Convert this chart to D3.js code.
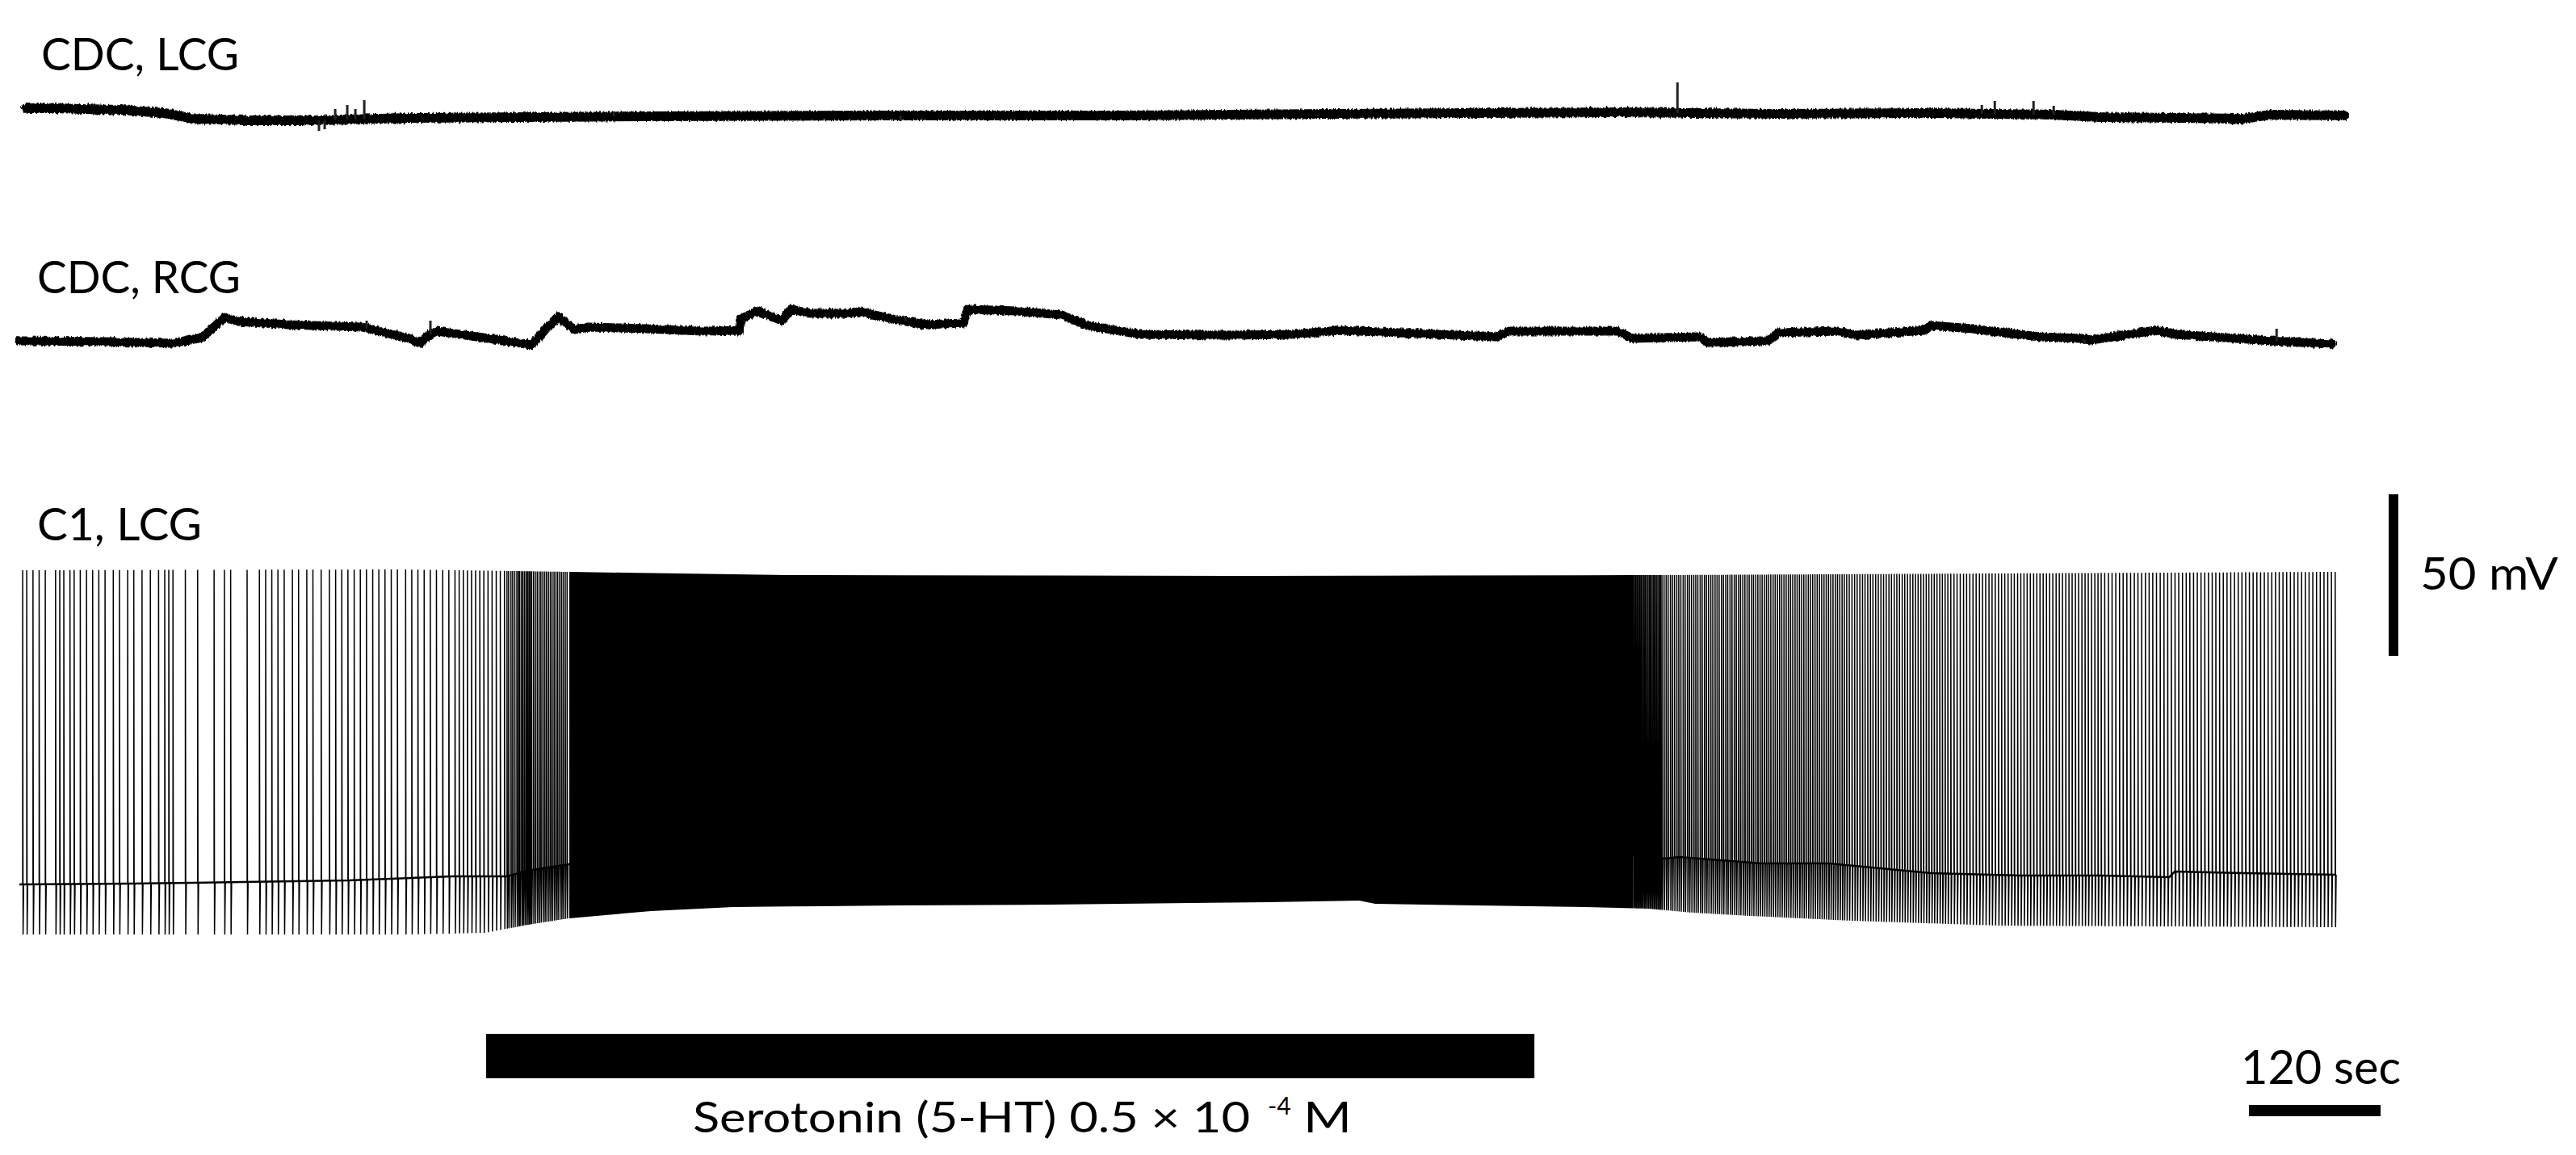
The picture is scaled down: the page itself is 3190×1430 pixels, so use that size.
<!DOCTYPE html>
<html>
<head>
<meta charset="utf-8">
<script src="https://cdnjs.cloudflare.com/ajax/libs/d3/7.8.5/d3.min.js"></script>
<style>
  body { margin: 0; background: #fff; }
  svg { display: block; }
  .lbl { font-family: Lato, 'Open Sans', sans-serif; fill: #000; }
</style>
</head>
<body>
<div id="chart"></div>
<script>
// recording time in seconds, potentials in mV (relative to each trace's own zero)
var trace1 = [[6.6, 2.5], [33.9, 2.5], [57.4, 2.25], [92.8, 2.0], [132.5, 1.0], [159.0, -0.75],
  [207.6, -1.25], [269.5, -1.25], [357.8, -0.5], [571.3, 0], [792.1, 0.25], [1013, 0.25],
  [1197, 0.75], [1454.7, 1.25], [1602, 0.75], [1742.6, 1.0], [1854.5, 0.5], [1897.2, -0.25],
  [1970, -0.5], [2026.8, -0.75], [2052.5, 0.5], [2119.5, 0.25]];
var trace1Events = [[273.1, -4.5], [278.3, -4.0], [287.9, 2.25], [298.9, 3.5], [306.3, 2.25],
  [314.4, 5.0], [542, 1.5], [803.2, -1.5], [1511.5, 10.5], [1789, 3.5], [1800.8, 4.75],
  [1836.1, 4.75], [1854.5, 3.25]];

var trace2 = [[0, -3], [76.6, -3.25], [139.9, -3.75], [166.4, -2], [187.0, 4.25], [200.2, 3],
  [245.2, 2], [312.9, 1.25], [357.8, -2.5], [365.2, -3.75], [372, -1.5], [380.6, 0], [432.9, -2.5],
  [466.8, -4.25], [481.5, 1.25], [491.1, 4.5], [505.8, 0.5], [519.0, 1.25], [571.3, 0.75],
  [623.6, 0], [656.0, 0.25], [657.4, 3.75], [672.9, 6.25], [695.0, 3.25], [703.1, 6.75],
  [721.5, 5.5], [755.3, 5.5], [766.4, 6], [796.6, 3.75], [826.8, 2], [860.6, 2.5], [864.3, 6.75],
  [909.2, 6.25], [950.4, 5], [973.3, 1.75], [1021.9, -1], [1096.9, -1.25], [1160.3, -1],
  [1203.7, 0.25], [1346.5, -1.75], [1358.3, 0], [1457.7, 0], [1470.2, -2.25], [1532.0, -1.75],
  [1538.7, -3.5], [1593.9, -3], [1603.4, -0.5], [1656.5, 0], [1674.9, -1.25], [1736.7, 0.25],
  [1742.6, 1.75], [1780.1, 0.75], [1842.0, -1.75], [1879.5, -2.25], [1888.4, -2.75],
  [1947.3, 0.25], [1966.4, -1], [2052.5, -3], [2108.5, -4]];
var trace2Events = [[316.6, 3.25], [374.7, 3.25], [807.6, 4.75], [1882.5, -4], [2057.7, 0.75]];

// C1 neuron: resting level, spike peaks and after-spike troughs
var c1Base = [[0, -56.25], [100, -56], [203, -55.5], [300, -55], [394.6, -53.75], [444.7, -53.75],
  [463, -52], [501, -50], [1470.9, -47], [1499.6, -48.25], [1512.9, -47.75], [1588, -49.75],
  [1649.8, -49.75], [1711.6, -51.75], [1742.6, -52.75], [1825, -53.5], [1897.2, -53.5],
  [1959.8, -54], [1964.9, -52.25], [2026.8, -52.75], [2112, -53.25]];
var c1Peak = [[0, 41], [350, 41.25], [550, 40.25], [700, 39.5], [1100, 39.25], [1500, 39.5],
  [1800, 40], [2112, 40.5]];
var c1Trough = [[0, -71.75], [350, -71.75], [424, -71.25], [463, -68.75], [500.6, -66.75],
  [575.7, -64.5], [650.8, -63.25], [801, -62.75], [939.4, -62.5], [1138.2, -61.75],
  [1221.4, -61.25], [1236, -62.25], [1427.5, -63.25], [1484.2, -63.75], [1525.4, -65],
  [1577.7, -66], [1670.4, -67.5], [1804.4, -69], [2112, -69.5]];

var c1Spikes = [3.0, 6.7, 12.4, 18.0, 23.6, 33.0, 36.8, 40.5, 46.1, 49.9, 55.5, 61.2, 66.8, 72.4,
  78.1, 85.6, 91.2, 98.7, 104.3, 111.8, 119.4, 126.9, 132.5, 136.2, 140.0, 151.3, 162.5, 177.5,
  186.9, 192.6, 207.6, 218.8, 224.5, 230.1, 235.7, 241.4, 248.9, 254.5, 262.0, 267.6, 275.1,
  282.6, 288.3, 293.9, 299.5, 305.2, 310.8, 316.4, 322.1, 327.7, 333.3, 339.0, 344.6, 352.1,
  357.7, 363.3, 369.0, 374.6, 380.2, 385.9, 391.5, 397.1, 400.9, 404.7, 408.4, 412.2, 415.9,
  419.7, 423.4, 427.2, 430.9, 434.7, 438.4, 442.2, 444.5, 446.0, 448.1, 449.7, 451.6, 453.5,
  455.0, 456.1, 457.8, 459.1, 460.6, 462.1, 463.4, 464.7, 466.0, 466.8, 468.6, 470.3, 472.1,
  473.8, 475.4, 477.2, 478.9, 480.5, 482.3, 484.0, 485.6, 487.4, 489.1, 490.7, 492.5, 494.2,
  495.8, 497.6, 499.3,
  1471.2, 1472.4, 1473.6, 1474.8, 1476.0, 1477.2, 1478.4, 1479.6, 1480.9, 1482.1, 1483.4, 1484.7,
  1486.0, 1487.2, 1488.5, 1489.8, 1491.0, 1492.3, 1493.6, 1494.9, 1496.1, 1497.4,
  1499.3, 1501.2, 1503.0, 1505.1, 1506.9, 1508.8, 1510.9, 1512.7, 1514.6, 1516.7, 1518.5, 1520.6,
  1522.4, 1524.3, 1526.4, 1528.2, 1530.1, 1532.2, 1534.0, 1536.1, 1537.9, 1539.8, 1541.9, 1543.7,
  1545.8, 1547.6, 1549.5, 1551.6, 1553.4, 1555.5, 1557.3, 1559.4, 1561.2, 1563.3, 1565.1, 1567.2,
  1569.0, 1571.1, 1573.0, 1575.0, 1576.9, 1579.0, 1580.8, 1582.9, 1584.8, 1586.8, 1588.7, 1590.8,
  1592.7, 1594.7, 1596.6, 1598.7, 1600.6, 1602.7, 1604.6, 1606.6, 1608.6, 1610.6, 1612.6, 1614.6,
  1616.6, 1618.7, 1620.6, 1622.7, 1624.7, 1626.7, 1628.7, 1630.8, 1632.8, 1634.8, 1636.9, 1638.9,
  1641.0, 1643.0, 1645.1, 1647.1, 1649.2, 1651.2, 1653.3, 1655.4, 1657.4, 1659.5, 1661.6, 1663.6,
  1665.8, 1668.1, 1670.6, 1673.0, 1675.3, 1677.8, 1680.2, 1682.5, 1685.0, 1687.4, 1689.7, 1692.2,
  1694.6, 1697.0, 1699.4, 1701.8, 1704.3, 1706.6, 1709.1, 1711.5, 1713.9, 1716.4, 1718.7, 1721.2,
  1723.6, 1726.1, 1728.5, 1730.9, 1733.4, 1735.8, 1738.3, 1740.7, 1743.2, 1745.6, 1748.1, 1750.6,
  1753.0, 1755.5, 1758.0,
  1760.7, 1763.6, 1766.4, 1769.3, 1772.3, 1775.1, 1778.0, 1780.9, 1783.8, 1786.8, 1789.6, 1792.5,
  1795.5, 1798.3, 1801.2, 1804.2, 1807.0, 1809.9, 1812.9, 1815.8, 1818.6, 1821.6, 1824.5, 1827.4,
  1830.3, 1833.2, 1836.2, 1839.1, 1842.0, 1844.9, 1847.9, 1850.8, 1853.7, 1856.7, 1859.6, 1862.5,
  1865.5, 1868.4, 1871.3, 1874.3, 1877.2, 1880.2, 1883.1, 1886.0, 1889.0, 1892.0, 1894.9, 1897.8,
  1901.0, 1904.4, 1907.7, 1911.1, 1914.5, 1917.8, 1921.2, 1924.6, 1928.0, 1931.3, 1934.7, 1938.1,
  1941.5, 1944.8, 1948.2, 1951.6, 1955.0, 1958.4, 1961.7, 1965.1, 1968.5, 1971.9, 1975.3, 1978.6,
  1982.0, 1985.4, 1988.8, 1992.2, 1995.6, 1999.0, 2002.3, 2005.7, 2009.1, 2012.5, 2015.9, 2019.3,
  2022.7, 2026.1, 2029.5, 2032.9, 2036.3, 2039.7, 2043.1, 2046.5, 2049.9, 2053.3, 2056.7, 2060.1,
  2063.5, 2066.9, 2070.3, 2073.7, 2077.1, 2080.5, 2083.9, 2087.3, 2090.7, 2094.1, 2097.5, 2100.9,
  2104.3, 2107.7, 2111.1];
// spikes fuse into a solid block during this window
var c1Burst = [501.3, 1470.9];

var drugWindow = [425.5, 1381.1];
var drugLabel = 'Serotonin (5-HT) 0.5 \u00d7 10';
var drugExponent = '-4';
var drugUnit = 'M';
var traceLabels = ['CDC, LCG', 'CDC, RCG', 'C1, LCG'];
var scaleBarMV = 50;
var scaleBarSec = 120;

var W = 3190, H = 1430;

var svg = d3.select('#chart').append('svg')
  .attr('width', W).attr('height', H);
svg.append('rect').attr('width', W).attr('height', H).attr('fill', '#fff');

// a little recording hiss on the slow traces
var rough = svg.append('defs').append('filter')
  .attr('id', 'hiss')
  .attr('x', '-2%').attr('y', '-100%').attr('width', '104%').attr('height', '300%');
rough.append('feTurbulence')
  .attr('type', 'fractalNoise')
  .attr('baseFrequency', '0.45 0.08')
  .attr('numOctaves', 2)
  .attr('seed', 3)
  .attr('result', 'n');
rough.append('feDisplacementMap')
  .attr('in', 'SourceGraphic')
  .attr('in2', 'n')
  .attr('scale', 5)
  .attr('xChannelSelector', 'R')
  .attr('yChannelSelector', 'G');

var x = d3.scaleLinear().domain([0, 2112]).range([24, 2893]);
// 4 px per mV on every trace
var y1 = d3.scaleLinear().domain([0, 10]).range([144, 104]);
var y2 = d3.scaleLinear().domain([0, 10]).range([410, 370]);
var y3 = d3.scaleLinear().domain([0, 50]).range([870, 670]);

function lookup(arr) {
  return d3.scaleLinear().domain(arr.map(function (d) { return d[0]; }))
    .range(arr.map(function (d) { return d[1]; })).clamp(true);
}

function drawSlowTrace(data, events, y, width) {
  var g = svg.append('g');
  var level = lookup(data);
  g.append('path')
    .datum(data)
    .attr('fill', 'none')
    .attr('stroke', '#000')
    .attr('stroke-width', width)
    .attr('stroke-linejoin', 'round')
    .attr('stroke-linecap', 'round')
    .attr('filter', 'url(#hiss)')
    .attr('d', d3.line().x(function (d) { return x(d[0]); }).y(function (d) { return y(d[1]); }));
  g.selectAll('line.ev')
    .data(events).enter()
    .append('line')
    .attr('class', 'ev')
    .attr('x1', function (d) { return x(d[0]); })
    .attr('x2', function (d) { return x(d[0]); })
    .attr('y1', function (d) { return y(level(d[0])); })
    .attr('y2', function (d) { return y(d[1]); })
    .attr('stroke', '#222')
    .attr('stroke-width', 3);
}

drawSlowTrace(trace1, trace1Events, y1, 12);
drawSlowTrace(trace2, trace2Events, y2, 11);

// C1 trace
var baseAt = lookup(c1Base);
var peakAt = lookup(c1Peak);
var troughAt = lookup(c1Trough);

var sp = d3.path();
c1Spikes.forEach(function (t) {
  var xs = x(t);
  sp.moveTo(xs, y3(baseAt(t)));
  sp.lineTo(xs, y3(peakAt(t)));
  sp.lineTo(xs + 0.5, y3(troughAt(t)));
  sp.lineTo(xs + 1.2, y3(baseAt(t)));
});
svg.append('path')
  .attr('d', sp.toString())
  .attr('fill', 'none')
  .attr('stroke', '#000')
  .attr('stroke-width', 1.5);

svg.append('path')
  .datum(c1Base)
  .attr('fill', 'none')
  .attr('stroke', '#000')
  .attr('stroke-width', 2.5)
  .attr('d', d3.line().x(function (d) { return x(d[0]); }).y(function (d) { return y3(d[1]); }));

var burstTimes = [c1Burst[0]];
c1Peak.concat(c1Trough).forEach(function (d) {
  if (d[0] > c1Burst[0] && d[0] < c1Burst[1]) burstTimes.push(d[0]);
});
burstTimes.push(c1Burst[1]);
burstTimes.sort(d3.ascending);
svg.append('path')
  .datum(burstTimes)
  .attr('fill', '#000')
  .attr('d', d3.area()
    .x(function (t) { return x(t); })
    .y0(function (t) { return y3(troughAt(t)); })
    .y1(function (t) { return y3(peakAt(t)); }));

// trace labels
var labelPos = [[51, 87, 245], [46, 363, 252], [46, 669, 204]];
svg.selectAll('text.trace')
  .data(traceLabels).enter()
  .append('text')
  .attr('class', 'lbl trace')
  .attr('x', function (d, i) { return labelPos[i][0]; })
  .attr('y', function (d, i) { return labelPos[i][1]; })
  .attr('textLength', function (d, i) { return labelPos[i][2]; })
  .attr('lengthAdjust', 'spacingAndGlyphs')
  .style('font-size', '56px')
  .text(function (d) { return d; });

// drug application bar
svg.append('rect')
  .attr('x', x(drugWindow[0]))
  .attr('y', 1280)
  .attr('width', x(drugWindow[1]) - x(drugWindow[0]))
  .attr('height', 55)
  .attr('fill', '#000');
svg.append('text').attr('class', 'lbl')
  .attr('x', 858).attr('y', 1402)
  .attr('textLength', 690).attr('lengthAdjust', 'spacingAndGlyphs')
  .style('font-size', '52px')
  .text(drugLabel);
svg.append('text').attr('class', 'lbl')
  .attr('x', 1570).attr('y', 1380)
  .style('font-size', '30px')
  .text(drugExponent);
svg.append('text').attr('class', 'lbl')
  .attr('x', 1614).attr('y', 1402)
  .attr('textLength', 60).attr('lengthAdjust', 'spacingAndGlyphs')
  .style('font-size', '52px')
  .text(drugUnit);

// scale bars
var mvLen = y3(0) - y3(scaleBarMV);
svg.append('rect')
  .attr('x', 2958).attr('y', 612)
  .attr('width', 12).attr('height', mvLen)
  .attr('fill', '#000');
svg.append('text').attr('class', 'lbl')
  .attr('x', 2997).attr('y', 730)
  .attr('textLength', 171).attr('lengthAdjust', 'spacingAndGlyphs')
  .style('font-size', '56px')
  .text(scaleBarMV + ' mV');

var secLen = x(scaleBarSec) - x(0);
svg.append('rect')
  .attr('x', 2785).attr('y', 1368)
  .attr('width', secLen).attr('height', 14)
  .attr('fill', '#000');
svg.append('text').attr('class', 'lbl')
  .attr('x', 2775).attr('y', 1342)
  .attr('textLength', 198).attr('lengthAdjust', 'spacingAndGlyphs')
  .style('font-size', '58px')
  .text(scaleBarSec + ' sec');
</script>
</body>
</html>
